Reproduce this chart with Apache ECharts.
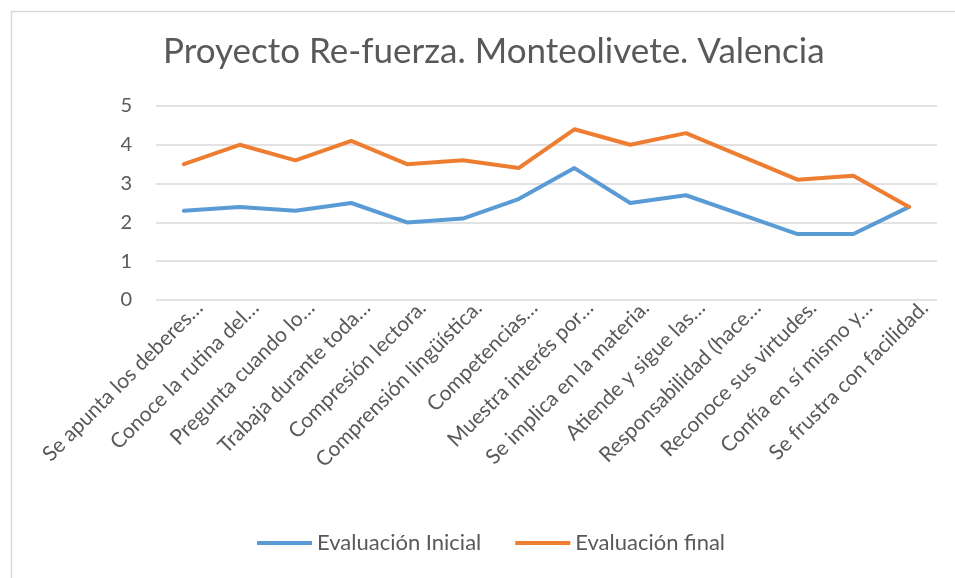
<!DOCTYPE html>
<html><head><meta charset="utf-8">
<script src="https://cdn.jsdelivr.net/npm/echarts@6/dist/echarts.min.js"></script>
<style>html,body{margin:0;padding:0;background:#fff}#c{width:955px;height:578px}</style>
</head><body><div id="c"></div>
<script>
const titleText = 'Proyecto Re-fuerza. Monteolivete. Valencia';
const categories = [
  'Se apunta los deberes…',
  'Conoce la rutina del…',
  'Pregunta cuando lo…',
  'Trabaja durante toda…',
  'Compresión lectora.',
  'Comprensión lingüística.',
  'Competencias…',
  'Muestra interés por…',
  'Se implica en la materia.',
  'Atiende y sigue las…',
  'Responsabilidad (hace…',
  'Reconoce sus virtudes.',
  'Confía en sí mismo y…',
  'Se frustra con facilidad.'
];
const seriesNames = ['Evaluación Inicial', 'Evaluación final'];
const inicial = [2.3, 2.4, 2.3, 2.5, 2.0, 2.1, 2.6, 3.4, 2.5, 2.7, 2.2, 1.7, 1.7, 2.4];
const final_ = [3.5, 4.0, 3.6, 4.1, 3.5, 3.6, 3.4, 4.4, 4.0, 4.3, 3.7, 3.1, 3.2, 2.4];
const yTicks = [0, 1, 2, 3, 4, 5];

const FONT = 'Lato';
const chart = echarts.init(document.getElementById('c'), null, {renderer: 'canvas'});
chart.setOption({
  backgroundColor: '#ffffff',
  animation: false,
  graphic: [{
    type: 'rect', left: 9, top: 9,
    shape: {width: 960, height: 590},
    style: {fill: 'none', stroke: '#d9d9d9', lineWidth: 1.5}
  }],
  title: {
    text: titleText, left: 158, top: 29,
    textStyle: {fontFamily: FONT, fontSize: 35, fontWeight: 'normal', color: '#595959'}
  },
  legend: {
    data: seriesNames.map(n => ({name: n, icon: 'rect'})),
    top: 527, left: 252,
    itemWidth: 55, itemHeight: 4, itemGap: 34,
    textStyle: {fontFamily: FONT, fontSize: 22, color: '#595959'}
  },
  grid: {left: 156, right: 18, top: 106, bottom: 278, containLabel: false},
  xAxis: {
    type: 'category', data: categories, boundaryGap: true,
    axisLine: {show: false}, axisTick: {show: false},
    axisLabel: {rotate: 45, interval: 0, margin: 20, padding: [0, -22, 0, 0],
      fontFamily: FONT, fontSize: 21, color: '#595959'}
  },
  yAxis: {
    type: 'value', min: yTicks[0], max: yTicks[yTicks.length - 1], interval: 1,
    axisLine: {show: false}, axisTick: {show: false},
    axisLabel: {margin: 24, fontFamily: FONT, fontSize: 20, color: '#595959'},
    splitLine: {lineStyle: {color: '#d9d9d9', width: 1.5}}
  },
  series: [
    {name: seriesNames[0], type: 'line', data: inicial, showSymbol: false, symbol: 'none',
     lineStyle: {color: '#5b9bd5', width: 4, join: 'round', cap: 'round'}, itemStyle: {color: '#5b9bd5'}},
    {name: seriesNames[1], type: 'line', data: final_, showSymbol: false, symbol: 'none',
     lineStyle: {color: '#ed7d31', width: 4, join: 'round', cap: 'round'}, itemStyle: {color: '#ed7d31'}}
  ]
});
</script></body></html>
